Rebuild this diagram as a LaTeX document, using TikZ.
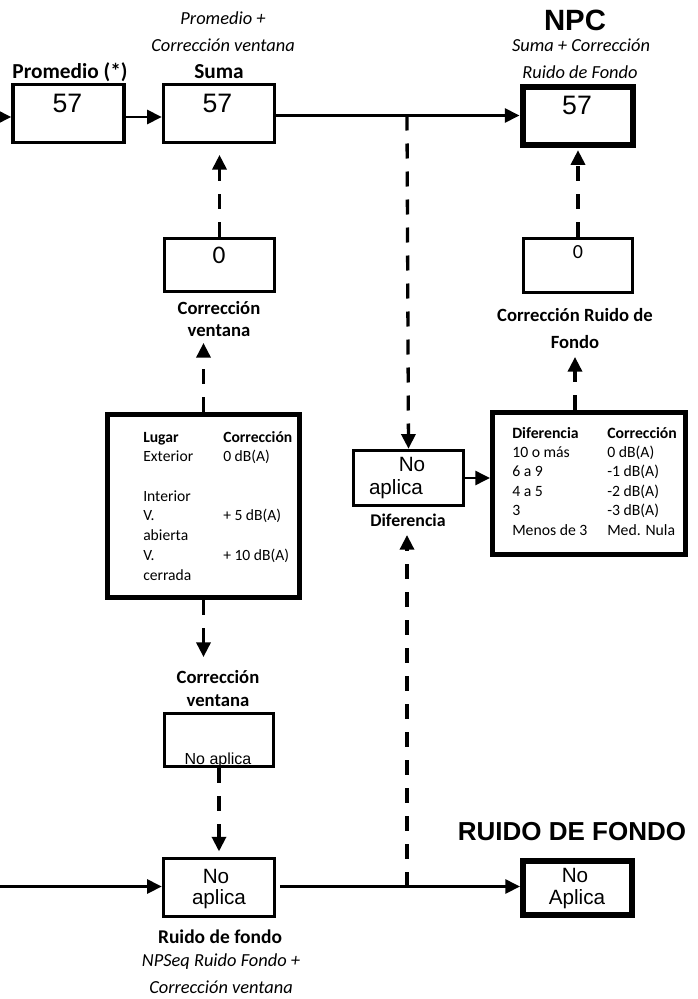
\documentclass[tikz,border=0pt]{standalone}
\usepackage{fontspec}
\setmainfont{Carlito}
\newfontfamily\arial{Liberation Sans}
\usetikzlibrary{arrows.meta,calc}
\begin{document}
\begin{tikzpicture}[x=0.75pt,y=-0.75pt,
  box/.style 2 args={draw,line width=2.6pt,inner sep=0pt,minimum width=#1*0.75pt,minimum height=#2*0.75pt},
  thickbox/.style 2 args={draw,line width=4.5pt,inner sep=0pt,minimum width=#1*0.75pt,minimum height=#2*0.75pt},
  tabbox/.style 2 args={draw,line width=3.8pt,inner sep=0pt,minimum width=#1*0.75pt,minimum height=#2*0.75pt},
  txt/.style={inner sep=0pt,align=center},
  conn/.style={line width=2pt},
  dashln/.style={line width=2.5pt,dash pattern=on 11.25pt off 9.75pt},
  arr/.style={-{Triangle[length=11pt,width=10.5pt]}},
  num/.style={txt,font=\arial\fontsize{20}{22}\selectfont},
  na/.style={txt,font=\arial\fontsize{15.5}{17}\selectfont},
  it/.style={txt,font=\fontsize{13.8}{16}\selectfont\itshape},
  bl/.style={txt,font=\fontsize{14}{16.5}\selectfont\bfseries},
  big/.style={txt,font=\arial\bfseries\fontsize{#1}{#1}\selectfont}
]
\useasboundingbox (0,0) rectangle (698,999);

% boxes
\node[box={111}{58}] (prom) at (68.5,113.5) {};
\node[box={111}{58}] (suma) at (219,113.5) {};
\node[thickbox={110}{57}] (npc) at (577.5,116) {};
\node[box={110}{53}] (corr0) at (219.5,265) {};
\node[box={109}{54}] (rf0) at (578,265.5) {};
\node[tabbox={192}{183}] (lugtab) at (203.5,506) {};
\node[box={110}{55}] (dif) at (408.5,478) {};
\node[tabbox={193}{142}] (diftab) at (589,483.5) {};
\node[box={109}{53}] (cvna) at (219,740) {};
\node[box={111}{58}] (rfna) at (219,887.5) {};
\node[thickbox={109}{54}] (ruido) at (577.5,888) {};

% texts in boxes
\node[num] (promv) at (67.5,103) {57};
\node[num] (sumav) at (217.5,103) {57};
\node[num] (npcv) at (577,105) {57};
\node[txt,font=\fontsize{19}{21}\selectfont] (corr0v) at (219,255) {0};
\node[txt,font=\fontsize{15}{17}\selectfont] (rf0v) at (578,252) {0};
\node[na] (difno) at (412,464) {No};
\node[na] (difap) at (396,489) {aplica};
\node[txt,font=\arial\fontsize{12}{14}\selectfont] (cvnav) at (218,760) {No aplica};
\node[na] (rfnano) at (216,876) {No};
\node[na] (rfnaap) at (219,899) {aplica};
\node[na] (ruidono) at (575,875) {No};
\node[na] (ruidoap) at (577,899) {Aplica};

% tables
\node[inner sep=0pt,anchor=base west,font=\fontsize{11.7}{14.8}\selectfont] (lugtxt) at (143,442)
{\begin{tabular}[t]{@{}p{60pt}@{}l@{}}
\textbf{Lugar} & \textbf{Corrección}\\
Exterior & 0 dB(A)\\
 & \\
Interior & \\
V. & + 5 dB(A)\\
abierta & \\
V. & + 10 dB(A)\\
cerrada &
\end{tabular}};
\node[inner sep=0pt,anchor=base west,font=\fontsize{11.8}{14.6}\selectfont] (diftxt) at (512,438)
{\begin{tabular}[t]{@{}p{71.25pt}@{}l@{}}
\textbf{Diferencia} & \textbf{Corrección}\\
10 o más & 0 dB(A)\\
6 a 9 & -1 dB(A)\\
4 a 5 & -2 dB(A)\\
3 & -3 dB(A)\\
Menos de 3 & Med. Nula
\end{tabular}};

% labels
\node[it] (t1) at (223,18) {Promedio +};
\node[it] (t2) at (223,45) {Corrección ventana};
\node[txt,font=\fontsize{16}{18}\selectfont\bfseries] (promlbl) at (70,72) {Promedio (*)};
\node[txt,font=\fontsize{16}{18}\selectfont\bfseries] (sumalbl) at (219,72) {Suma};
\node[big=22] (npclbl) at (575,20) {NPC};
\node[it] (t3) at (581,45) {Suma + Corrección};
\node[it] (t4) at (580,72) {Ruido de Fondo};
\node[bl] (cvlbl) at (219,319) {Corrección\\ventana};
\node[txt,font=\fontsize{14}{20}\selectfont\bfseries] (rflbl) at (575,328.5) {Corrección Ruido de\\Fondo};
\node[txt,font=\fontsize{13.4}{16}\selectfont\bfseries] (diflbl) at (408,520) {Diferencia};
\node[txt,font=\fontsize{14}{17}\selectfont\bfseries] (cvlbl2) at (218,688.5) {Corrección\\ventana};
\node[big=19.5] (ruidolbl) at (572,832) {RUIDO DE FONDO};
\node[txt,font=\fontsize{14.6}{17}\selectfont\bfseries] (rflbl2) at (220,937) {Ruido de fondo};
\node[it] (t5) at (221,962) {NPSeq Ruido Fondo +};
\node[it] (t6) at (221,987) {Corrección ventana};

% connectors
\coordinate (inl) at (0,117);
\coordinate (inl2) at (0,886.5);
\coordinate (j1) at (407,115.5);
\coordinate (j2) at (407,886.5);
\draw[conn,arr] (inl) -- (prom.west |- inl);
\draw[conn,arr] (prom.east |- inl) -- (suma.west |- inl);
\draw[conn,arr] (suma.east |- j1) -- (npc.west |- j1);
\draw[dashln,arr] (j1) -- (dif.north);
\draw[dashln,arr,shorten >=8pt] (corr0.north) -- (corr0.north |- suma.south);
\draw[dashln,arr] (lugtab.north) -- ++(0,-69);
\draw[dashln,arr] (rflbl.south |- diftab.north) -- ++(0,-53);
\draw[dashln,arr,shorten >=2pt] (rf0.north) -- (rf0.north |- npc.south);
\draw[conn,arr] (dif.east) -- (diftab.west |- dif.east);
\draw[dashln,arr] (j2) -- ++(0,-351.5);
\draw[dashln,arr] (lugtab.south) -- ++(0,57);
\draw[dashln,arr,shorten >=4pt] (cvna.south) -- (cvna.south |- rfna.north);
\draw[conn,arr] (inl2) -- (rfna.west |- inl2);
\draw[conn,arr] ($(rfna.east |- j2)+(4,0)$) -- (ruido.west |- j2);
\end{tikzpicture}
\end{document}
